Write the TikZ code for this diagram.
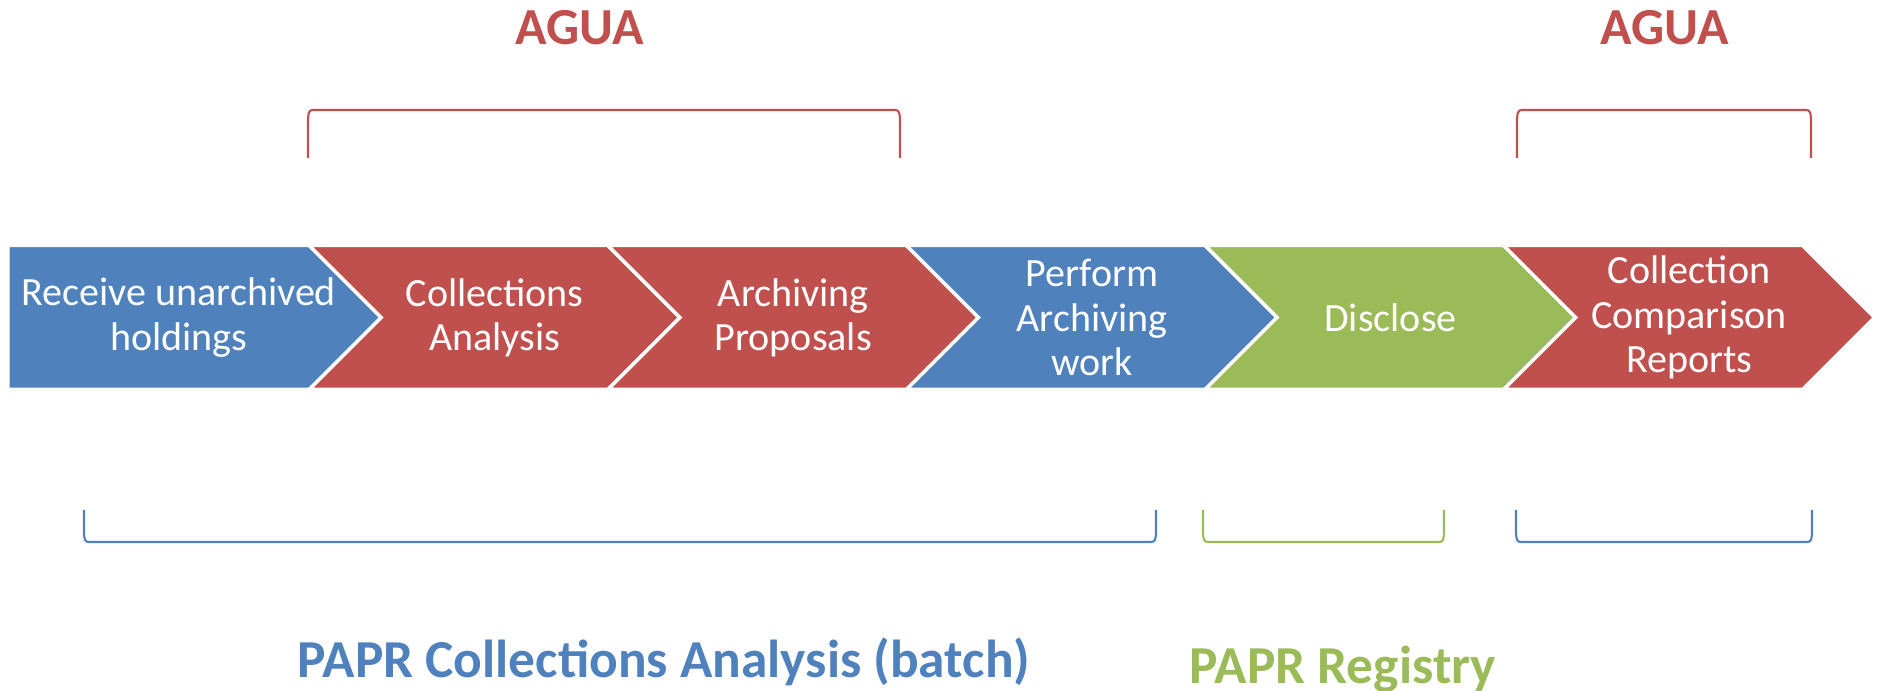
\documentclass[tikz,border=0pt]{standalone}
\usepackage{fontspec}
\setmainfont{Carlito}
\usetikzlibrary{shapes.symbols,positioning}
\definecolor{paprblue}{RGB}{79,129,189}
\definecolor{aguared}{RGB}{192,80,77}
\definecolor{reggreen}{RGB}{155,187,89}
\tikzset{
  stage/.style  = {signal, signal to=east, signal from=west, signal pointer angle=90,
                   draw=white, line width=1pt, minimum height=1.44cm, minimum width=3.71cm,
                   inner sep=0pt, align=center, text=white,
                   font=\fontsize{11.4}{12.6}\selectfont},
  blue stage/.style  = {stage, fill=paprblue},
  red stage/.style   = {stage, fill=aguared},
  green stage/.style = {stage, fill=reggreen},
  top label/.style    = {anchor=base, font=\fontsize{14.8}{17}\selectfont\bfseries},
  bottom label/.style = {anchor=base, font=\fontsize{15.2}{17}\selectfont\bfseries},
  bracket/.style = {line width=0.6pt}
}
\begin{document}
\begin{tikzpicture}[node distance=2.986cm]
\useasboundingbox (0,0) rectangle (18.79,-6.91);

% the chain of stages
\node[blue stage, signal from=nowhere, minimum width=4.14cm] (receive) at (1.788,-3.175) {Receive unarchived\\holdings};
\node[red stage, right of=receive, xshift=0.173cm] (analysis) {Collections\\Analysis};
\node[red stage, right of=analysis] (proposals) {Archiving\\Proposals};
\node[blue stage, right of=proposals] (perform) {Perform\\Archiving\\work};
\node[green stage, right of=perform] (disclose) {Disclose};
\node[red stage, right of=disclose] (reports) {Collection\\Comparison\\Reports};

% brackets above, AGUA
\foreach \a/\b in {3.08/9.00, 15.17/18.11}
  \draw[bracket, aguared] (\a,-1.58) -- (\a,-1.24) .. controls (\a,-1.12) and (\a+0.01,-1.10) .. (\a+0.05,-1.10)
    -- (\b-0.05,-1.10) .. controls (\b-0.01,-1.10) and (\b,-1.12) .. (\b,-1.24) -- (\b,-1.58);

% brackets below, PAPR
\foreach \a/\b/\c in {0.84/11.56/paprblue, 12.03/14.44/reggreen, 15.16/18.12/paprblue}
  \draw[bracket, \c] (\a,-5.10) -- (\a,-5.30) .. controls (\a,-5.40) and (\a+0.01,-5.42) .. (\a+0.05,-5.42)
    -- (\b-0.05,-5.42) .. controls (\b-0.01,-5.42) and (\b,-5.40) .. (\b,-5.30) -- (\b,-5.10);

\node[top label, aguared] (agua1) at (5.795,-0.45) {AGUA};
\node[top label, aguared] (agua2) at (16.65,-0.45) {AGUA};
\node[bottom label, paprblue] (batch) at (6.64,-6.777) {PAPR Collections Analysis (batch)};
\node[bottom label, reggreen] (registry) at (13.43,-6.833) {PAPR Registry};

\end{tikzpicture}
\end{document}
